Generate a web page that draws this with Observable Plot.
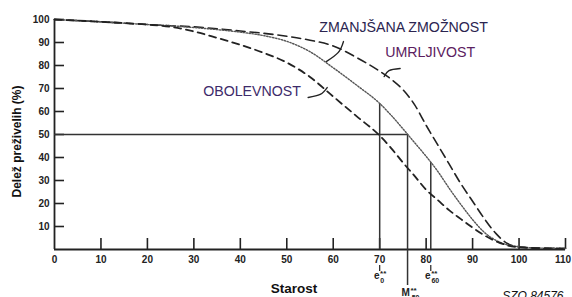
<!DOCTYPE html>
<html><head><meta charset="utf-8">
<script src="https://cdn.jsdelivr.net/npm/d3@7"></script>
<script src="https://cdn.jsdelivr.net/npm/@observablehq/plot@0.6"></script>
<style>body{margin:0;background:#fff;} svg{display:block;}</style>
</head><body><div id="chart"></div>
<script>
// ---- data ----
const ages =       [0, 10, 20, 25, 30, 35, 40, 45, 50, 55, 60, 65, 70, 72.5, 75, 77.5, 80, 82.5, 85, 87.5, 90, 92.5, 95, 97.5, 100, 105, 110];
const umrljivost = [100, 99, 97.8, 97.3, 96.8, 96, 95, 94, 92.7, 91, 88.5, 83.5, 77.5, 74, 69.5, 63, 54, 45.5, 37, 28.5, 21, 13.5, 7, 2.6, 1.2, 0.6, 0.5];
const zmanjsana =  [100, 99, 97.8, 97.3, 96.5, 95.6, 94.5, 93, 90.5, 86, 79, 71.5, 63.5, 58.3, 52.5, 46.5, 40.5, 34, 26.5, 19.5, 13, 7.5, 4, 2, 1.2, 0.6, 0.5];
const obolevnost = [100, 99, 97.8, 96.8, 94.8, 92, 89, 85.5, 81.3, 75, 66.5, 58, 49.5, 44, 37.8, 32, 26, 21.5, 17, 13.2, 9.5, 6.2, 3.6, 1.8, 1, 0.5, 0.3];

const xTicks = [10, 20, 30, 40, 50, 60, 70, 80, 90, 100, 110];
const xTickLabels = [0, 10, 20, 30, 40, 50, 60, 70, 80, 90, 100];
const xLastLabel = [110];
const yTicks = [10, 20, 30, 40, 50, 60, 70, 80, 90, 100];

// reference lines: e0, M50, e60
const refAge = [70, 76, 81];
const refTop = [63.5, 50, 37.8];
const refBase = ["e", "M", "e"];
const refSub = ["0", "50", "60"];
const halfLevel = 50;

// curve labels
const curveNames = ["ZMANJŠANA ZMOŽNOST", "UMRLJIVOST", "OBOLEVNOST"];
const labelX = [57.0, 71.2, 32];
const labelY = [96.5, 85.7, 68.5];
const labelColor = ["#2b2450", "#5b2060", "#3d2a6a"];
// pointer hooks from labels to curves
const hookId = ["z","z","z","u","u","u","o","o","o"];
const hookX = [62.2, 61.1, 58.5, 74.4, 72.0, 70.97, 54.6, 57.2, 58.7];
const hookY = [90.4, 85.7, 81.7, 78.7, 77.8, 75.2, 66.1, 67.4, 70.4];

const yLabel = "Delež preživelih (%)";
const xLabel = "Starost";
const source = "SZO 84576";

// ---- build ----
const rows = (ys) => ages.map((a, i) => ({x: a, y: ys[i]}));
const hooks = hookX.map((x, i) => ({id: hookId[i], x, y: hookY[i]}));
const ink = "#222";
const symText = {y: 0, fontWeight: "bold", fill: ink};

const chart = Plot.plot({
  width: 572, height: 297,
  marginLeft: 54, marginRight: 7, marginTop: 19, marginBottom: 48,
  x: {domain: [0, 110], axis: null},
  y: {domain: [0, 100], axis: null},
  style: {fontFamily: "'Liberation Sans', Arial, sans-serif", background: "#fff", overflow: "visible"},
  marks: [
    // axes
    Plot.ruleX([0], {y1: 0, y2: 100, stroke: ink, strokeWidth: 1.8}),
    Plot.ruleY([0], {x1: 0, x2: 110, stroke: ink, strokeWidth: 1.8}),
    Plot.ruleX(xTicks, {x: d => d, y1: 0, y2: 0, insetTop: -11, stroke: ink, strokeWidth: 1.6}),
    Plot.ruleY(yTicks, {y: d => d, x1: 0, x2: 0, insetRight: -10, stroke: ink, strokeWidth: 1.6}),
    Plot.text(yTicks, {x: 0, y: d => d, text: d => String(d), textAnchor: "end", dx: -5, fontSize: 10, fontWeight: "bold", fill: ink}),
    Plot.text(xTickLabels, {x: d => d, y: 0, text: d => String(d), dy: 10, fontSize: 10, fontWeight: "bold", fill: ink}),
    Plot.text(xLastLabel, {x: d => d, y: 0, text: d => String(d), dy: 10, dx: -2.5, fontSize: 10, fontWeight: "bold", fill: ink}),
    // reference lines
    Plot.ruleY([halfLevel], {x1: 0, x2: refAge[1], stroke: "#333", strokeWidth: 1.5}),
    Plot.ruleX(refAge.map((a, i) => ({a, t: refTop[i]})), {x: "a", y1: "t", y2: 0, stroke: "#333", strokeWidth: 1.5}),
    Plot.ruleX([refAge[1]], {x: d => d, y1: 0, y2: 0, insetBottom: -36, stroke: "#333", strokeWidth: 1.5}),
    Plot.ruleX([refAge[0], refAge[2]], {x: d => d, y1: 0, y2: 0, insetTop: 16, insetBottom: -22, stroke: ink, strokeWidth: 1.2}),
    // reference symbols: e0 and e60
    Plot.text([0, 2], {...symText, x: i => refAge[i], text: i => refBase[i], dy: 26, dx: -3, fontSize: 10}),
    Plot.text([0, 2], {...symText, x: i => refAge[i], text: () => "**", dy: 24, dx: 3.5, fontSize: 8}),
    Plot.text([0], {...symText, x: i => refAge[i], text: i => refSub[i], dy: 31, dx: 2.5, fontSize: 7}),
    Plot.text([2], {...symText, x: i => refAge[i], text: i => refSub[i], dy: 31, dx: 4.5, fontSize: 7}),
    // M50
    Plot.text([1], {...symText, x: i => refAge[i], text: i => refBase[i], dy: 43, dx: -2, fontSize: 10}),
    Plot.text([1], {...symText, x: i => refAge[i], text: () => "**", dy: 41, dx: 6, fontSize: 8}),
    Plot.text([1], {...symText, x: i => refAge[i], text: i => refSub[i], dy: 48, dx: 8, fontSize: 7}),
    // curves
    Plot.line(rows(umrljivost), {x: "x", y: "y", curve: "monotone-x", stroke: ink, strokeWidth: 1.6, strokeDasharray: "9,5"}),
    Plot.line(rows(zmanjsana), {x: "x", y: "y", curve: "monotone-x", stroke: "#555", strokeWidth: 1.4, strokeDasharray: "1.4,1.6"}),
    Plot.line(rows(obolevnost), {x: "x", y: "y", curve: "monotone-x", stroke: ink, strokeWidth: 1.8, strokeDasharray: "7,5"}),
    // label hooks
    Plot.line(hooks, {x: "x", y: "y", z: "id", curve: "natural", stroke: ink, strokeWidth: 1.4}),
    // curve labels
    Plot.text(curveNames, {x: (d, i) => labelX[i], y: (d, i) => labelY[i], text: d => d, textAnchor: "start", fontSize: 14.2, fill: (d, i) => labelColor[i]}),
    // titles
    Plot.text([yLabel], {frameAnchor: "left", textAnchor: "middle", lineAnchor: "middle", rotate: -90, dx: -37, dy: 7, fontSize: 12, fontWeight: "bold", fill: "#111"}),
    Plot.text([xLabel], {frameAnchor: "bottom", textAnchor: "middle", lineAnchor: "middle", dx: -16, dy: 39, fontSize: 13.5, fontWeight: "bold", fill: "#111"}),
    Plot.text([source], {frameAnchor: "bottom-right", textAnchor: "end", lineAnchor: "bottom", dx: -2, dy: 50, fontSize: 12, fontStyle: "italic", fill: "#111"})
  ]
});
document.getElementById("chart").appendChild(chart);
</script>
</body></html>
